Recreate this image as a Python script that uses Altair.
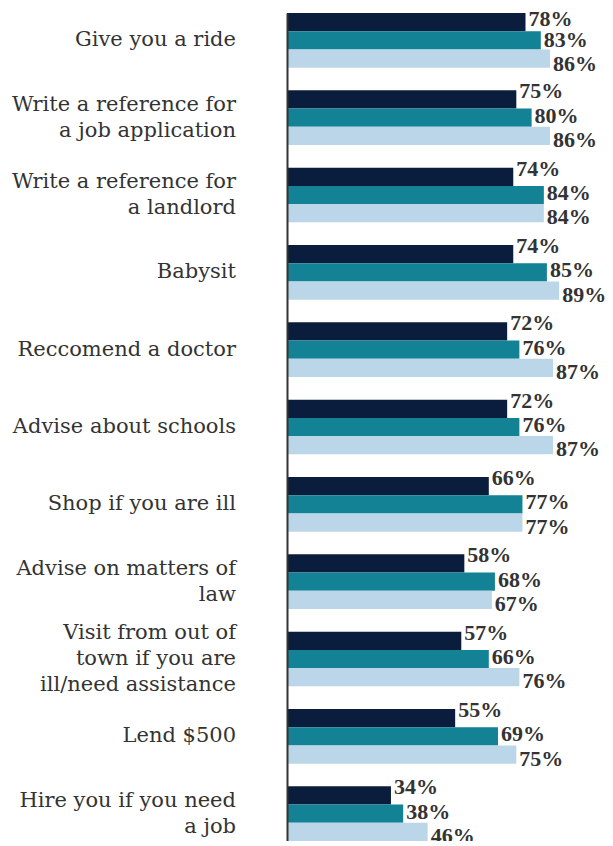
import altair as alt
import pandas as pd

categories = [
    "Give you a ride",
    "Write a reference for|a job application",
    "Write a reference for|a landlord",
    "Babysit",
    "Reccomend a doctor",
    "Advise about schools",
    "Shop if you are ill",
    "Advise on matters of|law",
    "Visit from out of|town if you are|ill/need assistance",
    "Lend $500",
    "Hire you if you need|a job",
]
series_names = ["Group A", "Group B", "Group C"]
series_a = [78, 75, 74, 74, 72, 72, 66, 58, 57, 55, 34]
series_b = [83, 80, 84, 85, 76, 76, 77, 68, 66, 69, 38]
series_c = [86, 86, 84, 89, 87, 87, 77, 67, 76, 75, 46]
colors = ["#0a1d3c", "#128294", "#bbd6e9"]

rows = []
for i, cat in enumerate(categories):
    for name, vals in zip(series_names, [series_a, series_b, series_c]):
        rows.append({"category": cat, "series": name, "value": vals[i],
                     "first": i == 0})
df = pd.DataFrame(rows)

cat_df = pd.DataFrame(
    {"category": categories, "nlines": [c.count("|") + 1 for c in categories]}
)

y_enc = alt.Y(
    "category:N",
    sort=categories,
    scale=alt.Scale(paddingInner=0.293, paddingOuter=0),
    axis=alt.Axis(
        title=None,
        ticks=False,
        labels=False,
        domain=True,
        domainColor="#333333",
        domainWidth=2,
        zindex=1,
    ),
)
yoff = alt.YOffset(
    "series:N",
    sort=series_names,
    scale=alt.Scale(paddingInner=0, paddingOuter=0),
)
x_enc = alt.X("value:Q", scale=alt.Scale(domain=[0, 104]), axis=None)

base = alt.Chart(df)

bars = base.mark_bar().encode(
    x=x_enc,
    y=y_enc,
    yOffset=yoff,
    color=alt.Color(
        "series:N",
        sort=series_names,
        scale=alt.Scale(domain=series_names, range=colors),
        legend=None,
    ),
)

dys_first = [-3, 0, 5]
dys_rest = [-8, -2, 4]
text_layers = []
for name, dy_f, dy_r in zip(series_names, dys_first, dys_rest):
    for is_first, dy in [(True, dy_f), (False, dy_r)]:
        t = (
            base.transform_filter(
                (alt.datum.series == name) & (alt.datum.first == is_first)
            )
            .transform_calculate(label="datum.value + '%'")
            .mark_text(
                align="left",
                baseline="middle",
                dx=3,
                dy=dy,
                font="Liberation Serif",
                fontSize=22,
                fontWeight="bold",
                color="#333333",
            )
            .encode(x=x_enc, y=y_enc, yOffset=yoff, text="label:N")
        )
        text_layers.append(t)

cat_layers = []
for n in [1, 2, 3]:
    c = (
        alt.Chart(cat_df)
        .transform_filter(alt.datum.nlines == n)
        .mark_text(
            align="right",
            baseline="middle",
            dy=-(n - 1) * 13,
            lineBreak="|",
            lineHeight=26,
            font="DejaVu Serif",
            fontSize=21,
            color="#333333",
        )
        .encode(x=alt.value(-51), y=y_enc, text="category:N")
    )
    cat_layers.append(c)

chart = (
    alt.layer(bars, *text_layers, *cat_layers)
    .properties(
        width=318,
        height=828,
        autosize="none",
        padding={"left": 279, "top": 5, "right": 0, "bottom": 0},
    )
    .configure_view(stroke=None)
)

chart.save("out.html", embed_options={"renderer": "svg", "actions": False})
